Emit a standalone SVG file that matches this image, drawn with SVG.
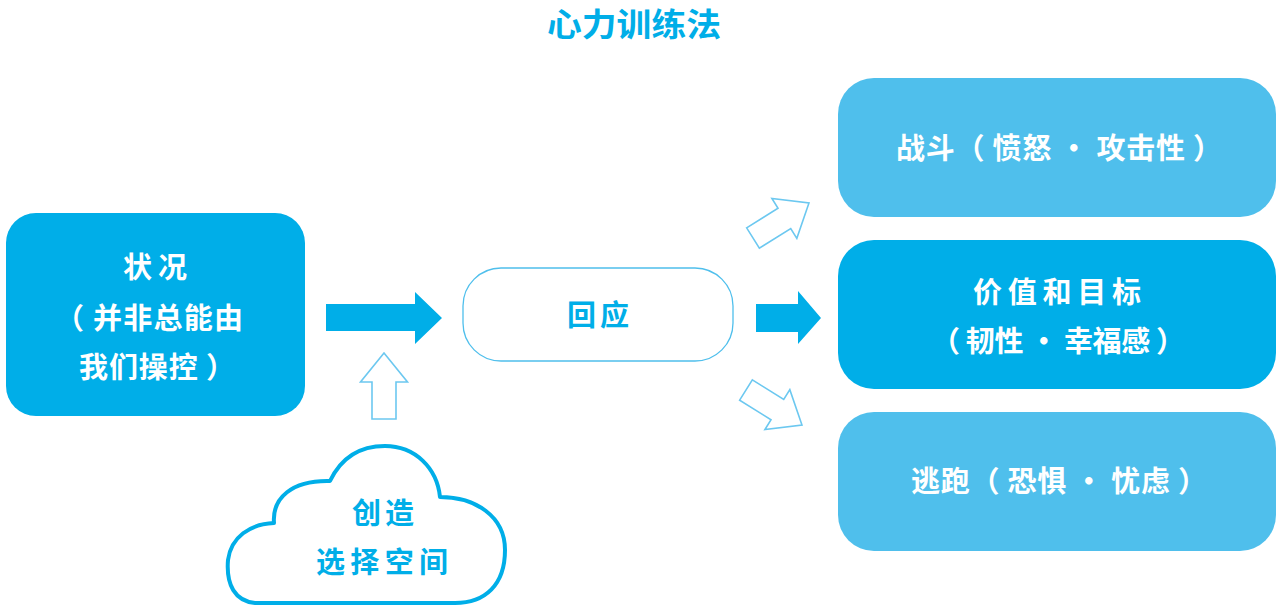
<svg xmlns="http://www.w3.org/2000/svg" width="1282" height="611" viewBox="0 0 1282 611">
  <style>
    .t { font-family: "Noto Sans CJK SC", "Noto Sans", sans-serif; font-weight: bold; text-anchor: middle; dominant-baseline: central; }
    .w { fill: #ffffff; font-size: 29px; }
    .b { fill: #00AEE8; font-size: 29px; }
    .dark { fill: #00AEE8; }
    .light { fill: #4FBFEC; }
    .hollow { fill: #ffffff; stroke: #6CC8F0; stroke-width: 1.6; stroke-linejoin: miter; }
    .solid { fill: #00AEE8; }
  </style>
  <defs>
    <polygon id="harrow" points="0,-12 37,-12 37,-23.5 66,0 37,23.5 37,12 0,12"/>
  </defs>
  <rect width="1282" height="611" fill="#ffffff"/>

  <text class="t" x="634" y="22" font-size="32" fill="#00AEE8" textLength="174" lengthAdjust="spacingAndGlyphs">心力训练法</text>

  <g id="connectors">
    <polygon class="solid" points="326,304 415,304 415,292 442,318 415,344 415,331 326,331"/>
    <polygon class="solid" points="756,304 798,304 798,291 821,318 798,344 798,332 756,332"/>
    <use href="#harrow" class="hollow" transform="translate(384,419) rotate(-90)"/>
    <use href="#harrow" class="hollow" transform="translate(753,238) rotate(-32)"/>
    <use href="#harrow" class="hollow" transform="translate(746,390) rotate(32)"/>
  </g>

  <g id="situation">
    <rect class="dark" x="6" y="213" width="299" height="203" rx="30"/>
    <text class="t w" x="155" y="265" textLength="64" lengthAdjust="spacing">状况</text>
    <text class="t w" x="149" y="316" textLength="188" lengthAdjust="spacing">（ 并非总能由</text>
    <text class="t w" x="157" y="365" textLength="156" lengthAdjust="spacing">我们操控 ）</text>
  </g>

  <g id="space">
    <path d="M 255 603 C 235 601 226 585 228 560 C 231 537 250 524 274 523 C 272 498 292 480 330 481 C 342 456 362 446 385 446 C 415 446 437 468 440 497 C 475 497 505 516 505 550 C 505 585 485 603 455 603 Z" fill="#ffffff" stroke="#00AEE8" stroke-width="4" stroke-linejoin="round"/>
    <text class="t b" x="383" y="511" font-size="31" textLength="62" lengthAdjust="spacing">创造</text>
    <text class="t b" x="382" y="560" font-size="31" textLength="132" lengthAdjust="spacing">选择空间</text>
  </g>

  <g id="response">
    <rect x="463" y="268" width="270" height="93" rx="38" fill="#ffffff" stroke="#4FBFEC" stroke-width="1.3"/>
    <text class="t b" x="598" y="313" textLength="62" lengthAdjust="spacing">回应</text>
  </g>

  <g id="fight">
    <rect class="light" x="838" y="78" width="438" height="139" rx="36"/>
    <text class="t w" x="1059" y="146" textLength="326" lengthAdjust="spacing">战斗（ 愤怒 · 攻击性 ）</text>
  </g>

  <g id="values">
    <rect class="dark" x="838" y="240" width="438" height="149" rx="36"/>
    <text class="t w" x="1057" y="290" textLength="168" lengthAdjust="spacing">价值和目标</text>
    <text class="t w" x="1058" y="339" textLength="254" lengthAdjust="spacing">（ 韧性 · 幸福感 ）</text>
  </g>

  <g id="flight">
    <rect class="light" x="838" y="412" width="438" height="139" rx="36"/>
    <text class="t w" x="1059" y="479" textLength="296" lengthAdjust="spacing">逃跑（ 恐惧 · 忧虑 ）</text>
  </g>
</svg>
